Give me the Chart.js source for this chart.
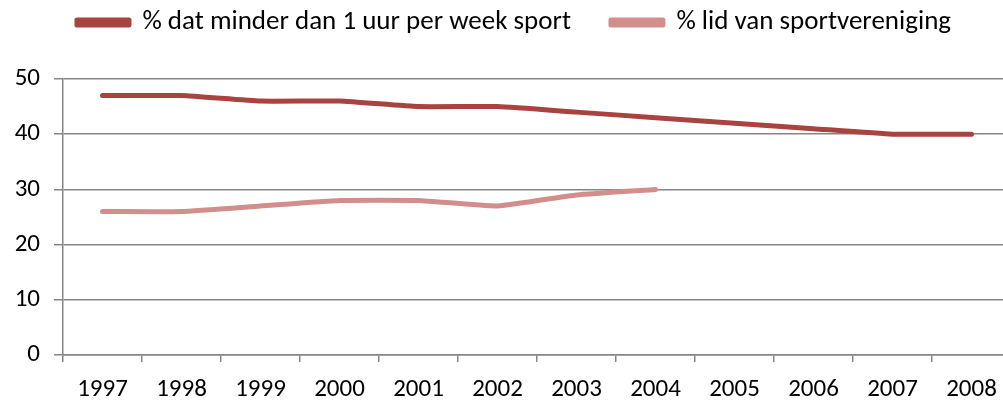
<!DOCTYPE html>
<html>
<head>
<meta charset="utf-8">
<script src="https://cdn.jsdelivr.net/npm/chart.js@4.4.1/dist/chart.umd.min.js"></script>
<style>
  html, body { margin: 0; padding: 0; background: #fff; overflow: hidden; }
  #wrap { width: 1011px; height: 408px; }
</style>
</head>
<body>
<div id="wrap"><canvas id="chart" width="1011" height="408"></canvas></div>
<script>
const years = ['1997','1998','1999','2000','2001','2002','2003','2004','2005','2006','2007','2008'];
const lessThanOneHour = [47, 47, 46, 46, 45, 45, 44, 43, 42, 41, 40, 40];
const clubMembers = [26, 26, 27, 28, 28, 27, 29, 30, null, null, null, null];
const yTicks = [0, 10, 20, 30, 40, 50];

const font = "Carlito, Lato, 'Liberation Sans', sans-serif";
const axisGrey = '#868686';

// legend sits high, the plot starts lower; legend a bit right of centre
const legendGap = {
  id: 'legendGap',
  beforeInit(chart) {
    const fit = chart.legend.fit;
    chart.legend.fit = function() {
      fit.call(this);
      this.height += 33;
    };
  },
  afterLayout(chart) {
    chart.legend.left += 17;
  }
};

const ctx = document.getElementById('chart').getContext('2d');

new Chart(ctx, {
  type: 'line',
  data: {
    labels: years,
    datasets: [
      {
        label: '% dat minder dan 1 uur per week sport',
        data: lessThanOneHour,
        borderColor: '#A9433F',
        backgroundColor: '#A9433F',
        borderWidth: 5,
        borderCapStyle: 'round',
        borderJoinStyle: 'round',
        pointRadius: 0,
        tension: 0.15,
        fill: false
      },
      {
        label: '% lid van sportvereniging',
        data: clubMembers,
        borderColor: '#D38E8C',
        backgroundColor: '#D38E8C',
        borderWidth: 5,
        borderCapStyle: 'round',
        borderJoinStyle: 'round',
        pointRadius: 0,
        tension: 0.15,
        fill: false
      }
    ]
  },
  options: {
    responsive: false,
    animation: false,
    layout: { padding: { left: 0, right: 0, top: -31, bottom: 0 } },
    plugins: {
      tooltip: { enabled: false },
      legend: {
        position: 'top',
        labels: {
          font: { family: font, size: 27 },
          color: '#000',
          boxWidth: 52,
          boxHeight: 5,
          padding: 40
        }
      }
    },
    scales: {
      x: {
        offset: true,
        afterFit: s => { s.height = 53; },
        grid: {
          offset: true,
          drawOnChartArea: false,
          drawTicks: true,
          tickLength: 7,
          color: axisGrey,
          lineWidth: 1.5
        },
        border: { color: axisGrey, width: 1.5 },
        ticks: {
          font: { family: font, size: 25 },
          color: '#000',
          padding: 13,
          maxRotation: 0
        }
      },
      y: {
        min: 0,
        max: 50,
        afterFit: s => { s.width = 63; },
        afterBuildTicks: s => { s.ticks = yTicks.map(v => ({ value: v })); },
        grid: {
          color: axisGrey,
          lineWidth: 1.5,
          tickLength: 9
        },
        border: { color: axisGrey, width: 1.5 },
        ticks: {
          font: { family: font, size: 25 },
          color: '#000',
          padding: 14
        }
      }
    }
  },
  plugins: [legendGap]
});
</script>
</body>
</html>
